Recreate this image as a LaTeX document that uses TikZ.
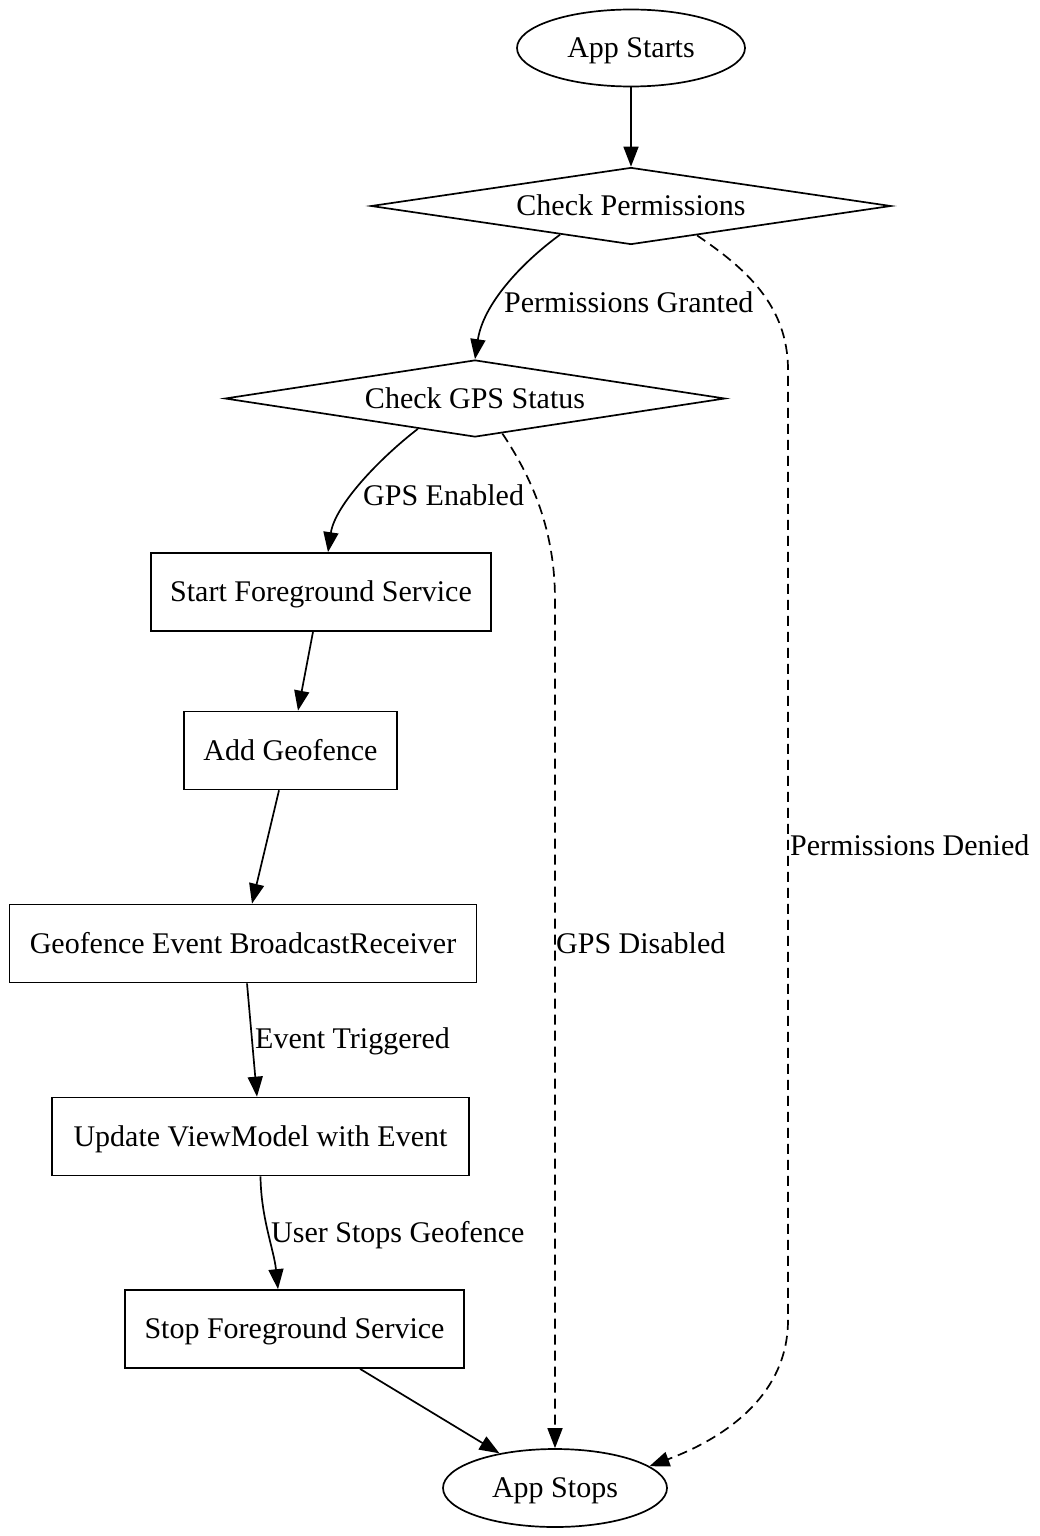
\documentclass[tikz,border=0pt]{standalone}
\usepackage{fontspec}
\setmainfont{Liberation Serif}
\usetikzlibrary{shapes.geometric,arrows.meta}
\begin{document}
\begin{tikzpicture}[x=1pt,y=-1pt,
  every node/.style={font=\fontsize{30}{36}\selectfont, text height=19.8pt, text depth=0pt, inner sep=0pt},
  box/.style={draw, line width=1.7pt, rectangle, minimum height=78pt},
  oval/.style={draw, line width=1.7pt, ellipse, minimum height=77pt},
  decision/.style={draw, line width=1.7pt, diamond, shape aspect=6.6, minimum height=77pt},
  edge/.style={line width=1.7pt, -{Triangle[length=20pt,width=15pt]}},
  dashededge/.style={edge, dash pattern=on 10pt off 6pt},
  lbl/.style={anchor=base west}]
\useasboundingbox (0,0) rectangle (1040,1536);

\node[oval, minimum width=228pt] (as1) at (631,48) {App Starts};
\node[decision, minimum width=520pt] (cp) at (631,206) {Check Permissions};
\node[decision, minimum width=500pt] (gps) at (475,398.5) {Check GPS Status};
\node[box, minimum width=340pt] (sfs) at (321,592) {Start Foreground Service};
\node[box, minimum width=213pt] (ag) at (290.5,750.5) {Add Geofence};
\node[box, minimum width=467pt] (gebr) at (243,943.5) {Geofence Event BroadcastReceiver};
\node[box, minimum width=417pt] (uvm) at (260.5,1136.5) {Update ViewModel with Event};
\node[box, minimum width=339pt] (sfs2) at (294.5,1329) {Stop Foreground Service};
\node[oval, minimum width=224pt, minimum height=78pt] (as2) at (555,1488) {App Stops};

\draw[edge] (as1) -- (cp);
\draw[edge] (cp.202.4) .. controls (520,264) and (483,305) .. (gps.north);
\draw[dashededge] (cp.336.7) .. controls (745,268) and (788,305) .. (788,370) -- (788,1320) .. controls (788,1392) and (730,1436) .. (as2.13.4);
\draw[edge] (gps.208) .. controls (380,458) and (335,505) .. ([xshift=7pt]sfs.north);
\draw[dashededge] (gps.308) .. controls (532,478) and (555,530) .. (555,600) -- (as2.north);
\draw[edge] ([xshift=-8pt]sfs.south) -- ([xshift=7.5pt]ag.north);
\draw[edge] ([xshift=-11.5pt]ag.south) -- ([xshift=9pt]gebr.north);
\draw[edge] ([xshift=4pt]gebr.south) -- ([xshift=-3.5pt]uvm.north);
\draw[edge] (uvm.south) .. controls (261,1218) and (274,1250) .. ([xshift=-16.5pt]sfs2.north);
\draw[edge] ([xshift=65.5pt]sfs2.south) -- (as2.148.5);

\node[lbl] (l1) at (504,312) {Permissions Granted};
\node[lbl] (l2) at (790,855) {Permissions Denied};
\node[lbl] (l3) at (363,505) {GPS Enabled};
\node[lbl] (l4) at (556,953) {GPS Disabled};
\node[lbl] (l5) at (255,1048) {Event Triggered};
\node[lbl] (l6) at (271,1242) {User Stops Geofence};
\end{tikzpicture}
\end{document}
